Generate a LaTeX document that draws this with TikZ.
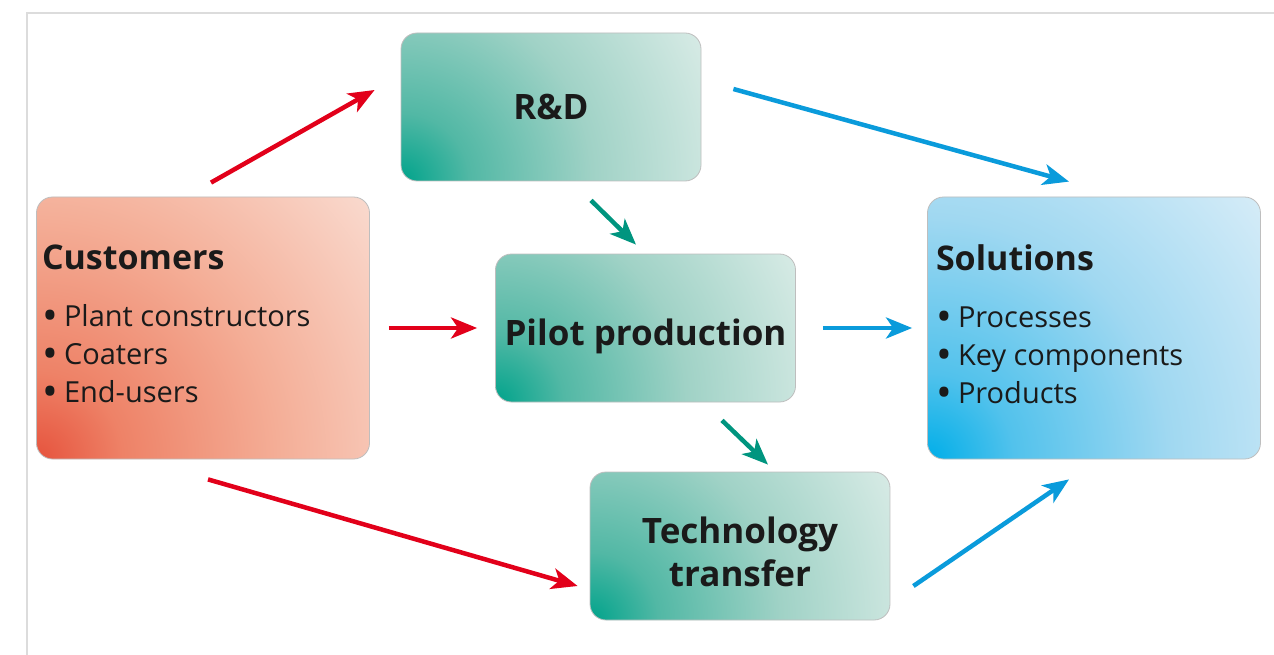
\documentclass[tikz,border=0pt]{standalone}
\usepackage{fontspec}
\setmainfont{Open Sans}
\usetikzlibrary{arrows.meta,calc}

% palette
\definecolor{framegrey}{HTML}{DCDCDC}
\definecolor{boxline}{HTML}{BEBEBE}
\definecolor{inkblack}{HTML}{1A1A1A}
\definecolor{arrowred}{HTML}{E2001A}
\definecolor{arrowblue}{HTML}{0A9BDB}
\definecolor{arrowteal}{HTML}{00957F}

\definecolor{rA}{HTML}{E6533D}
\definecolor{rB}{HTML}{EE8267}
\definecolor{rC}{HTML}{F4AE97}
\definecolor{rD}{HTML}{FADCD1}
\definecolor{tA}{HTML}{00A38B}
\definecolor{tB}{HTML}{52B8A5}
\definecolor{tC}{HTML}{A0D2C6}
\definecolor{tD}{HTML}{DAECE7}
\definecolor{bA}{HTML}{00AEE8}
\definecolor{bB}{HTML}{52C2EC}
\definecolor{bC}{HTML}{A0D8F1}
\definecolor{bD}{HTML}{D8EDF8}

% glow spreading out from the lower left corner of each box
% (the circle drawn with it reaches 25bp)
\pgfdeclareradialshading{redglow}{\pgfpoint{0bp}{0bp}}%
  {color(0bp)=(rA); color(5bp)=(rB); color(14bp)=(rC); color(25bp)=(rD); color(50bp)=(rD)}
\pgfdeclareradialshading{tealglow}{\pgfpoint{0bp}{0bp}}%
  {color(0bp)=(tA); color(5bp)=(tB); color(14bp)=(tC); color(25bp)=(tD); color(50bp)=(tD)}
\pgfdeclareradialshading{blueglow}{\pgfpoint{0bp}{0bp}}%
  {color(0bp)=(bA); color(5bp)=(bB); color(14bp)=(bC); color(25bp)=(bD); color(50bp)=(bD)}

\newcommand{\headfont}{\fontsize{34}{38}\selectfont\bfseries}
\newcommand{\stagefont}{\fontsize{35}{43}\selectfont\bfseries}
\newcommand{\itemfont}{\fontsize{29}{38}\selectfont}
\newcommand{\itembul}{\makebox[22pt][l]{\raisebox{-4pt}{\fontsize{42}{38}\selectfont •}}}
% shift a block up or down without changing the room it takes
\newcommand{\nudge}[2]{\raisebox{#1}[\height][\depth]{#2}}

\tikzset{
  box/.style={draw=boxline, line width=0.8pt, rounded corners=16pt,
    inner sep=0pt, text=inkblack},
  glow/.style={path picture={
      \shade[shading=#1]
        let \p1=($(path picture bounding box.north east)-(path picture bounding box.south west)$),
            \n1={veclen(\x1,\y1)} in
        (path picture bounding box.south west) circle[radius=1.02*\n1];
    }},
  sidebox/.style={box, minimum width=333pt, minimum height=262pt, font=\itemfont},
  stagebox/.style={box, glow=tealglow, minimum width=300pt, minimum height=148pt,
    align=center, font=\stagefont},
  flow/.style={line width=4.5pt, -{Stealth[length=26pt,width=21pt,inset=7pt]}},
  redflow/.style={flow, draw=arrowred},
  blueflow/.style={flow, draw=arrowblue},
  tealflow/.style={flow, draw=arrowteal},
}

\begin{document}
\begin{tikzpicture}[x=1pt,y=-1pt]
  % page and frame
  \fill[white] (0,0) rectangle (1274,655);
  \useasboundingbox (0,0) rectangle (1274,655);
  \draw[framegrey, line width=2pt] (26.5,655) -- (26.5,13) -- (1274,13);

  % boxes
  \node[sidebox, glow=redglow] (cust) at (203,328)
    {\nudge{2pt}{\begin{minipage}{322pt}\raggedright
     {\headfont Customers}\\[19pt]
     \itembul Plant constructors\\
     \itembul Coaters\\
     \itembul End-users\end{minipage}}};
  \node[sidebox, glow=blueglow] (sol) at (1094,328)
    {\nudge{2pt}{\begin{minipage}{316pt}\raggedright
     {\headfont Solutions}\\[19pt]
     \itembul Processes\\
     \itembul Key components\\
     \itembul Products\end{minipage}}};
  \node[stagebox] (rd) at (551,107) {R\&D};
  \node[stagebox] (pilot) at (645.5,328) {\nudge{-8pt}{Pilot production}};
  \node[stagebox] (tech) at (740,546)
    {\nudge{-10pt}{\begin{tabular}{@{}c@{}}Technology\\transfer\end{tabular}}};

  % connector ends
  \coordinate (c1s) at ($(cust.north)+(8,-14)$);
  \coordinate (c1e) at ($(rd.west)+(-26,-17)$);
  \coordinate (c2s) at ($(cust.east)+(19,0)$);
  \coordinate (c2e) at ($(pilot.west)+(-18,0)$);
  \coordinate (c3s) at ($(cust.south)+(5,20)$);
  \coordinate (c3e) at ($(tech.west)+(-12,40)$);
  \coordinate (s1s) at ($(rd.east)+(32,-18)$);
  \coordinate (s1e) at ($(sol.north)+(-25,-15)$);
  \coordinate (s2s) at ($(pilot.east)+(27,0)$);
  \coordinate (s2e) at ($(sol.west)+(-15,0)$);
  \coordinate (s3s) at ($(tech.east)+(23,40)$);
  \coordinate (s3e) at ($(sol.south)+(-25,20)$);
  \coordinate (t1s) at ($(rd.south)+(40,19)$);
  \coordinate (t1e) at ($(pilot.north)+(-9.5,-9)$);
  \coordinate (t2s) at ($(pilot.south)+(76.5,18)$);
  \coordinate (t2e) at ($(tech.north)+(28,-7)$);

  % connectors
  \draw[redflow] (c1s) -- (c1e);
  \draw[redflow] (c2s) -- (c2e);
  \draw[redflow] (c3s) -- (c3e);
  \draw[blueflow] (s1s) -- (s1e);
  \draw[blueflow] (s2s) -- (s2e);
  \draw[blueflow] (s3s) -- (s3e);
  \draw[tealflow] (t1s) -- (t1e);
  \draw[tealflow] (t2s) -- (t2e);
\end{tikzpicture}
\end{document}
